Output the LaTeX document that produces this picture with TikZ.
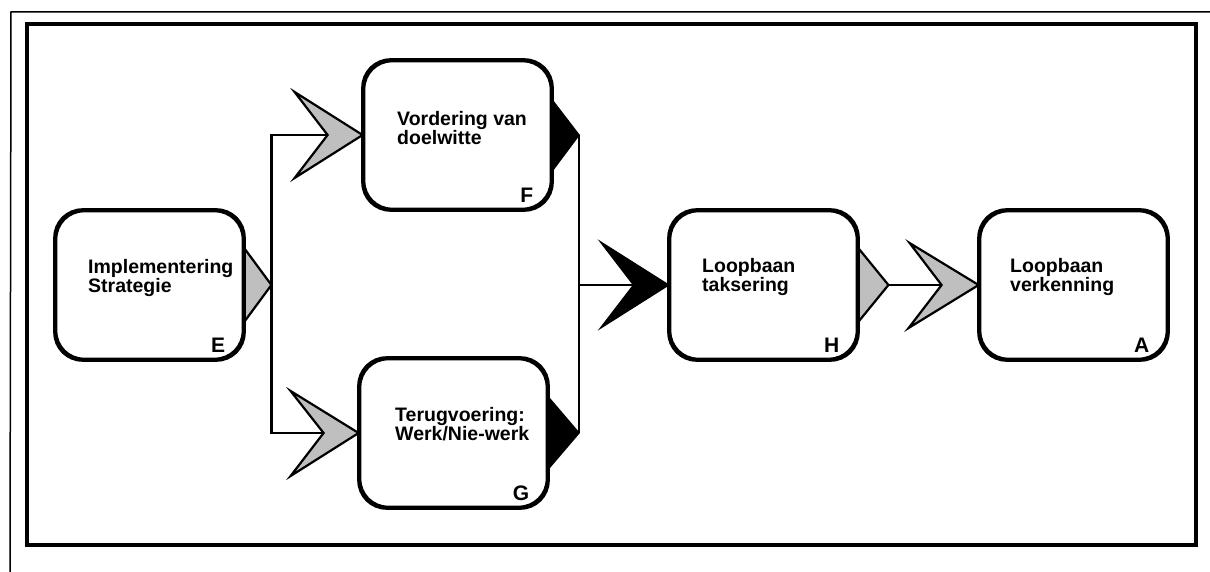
\documentclass[tikz,border=0pt]{standalone}
\usepackage{fontspec}
\setmainfont{Liberation Sans}
\usetikzlibrary{calc}
\begin{document}
\begin{tikzpicture}[x=1pt,y=-1pt,
  box/.style={draw, line width=2.8pt, rounded corners=28pt, minimum width=187pt, minimum height=148pt, fill=white},
  lbl/.style={font=\fontsize{19.5}{19}\selectfont\bfseries, align=left, inner sep=0pt, anchor=north west},
  corner/.style={font=\fontsize{21}{21}\selectfont\bfseries, inner sep=0pt, anchor=base east},
  conn/.style={line width=2.4pt},
  grayfill/.style={fill=gray!50, draw=black, line width=2.2pt, line join=miter},
  blackfill/.style={fill=black, draw=black, line width=1.4pt, line join=miter}]
\useasboundingbox (0,0) rectangle (1210,572);
% frames
\draw[line width=1.5pt] (10,572) -- (11,12) -- (1210,12);
\draw[line width=3.2pt] (27,24) rectangle (1196,545);
% boxes
\node[box] (E) at (149.5,285) {};
\node[box] (F) at (457.5,135) {};
\node[box] (G) at (453.5,433) {};
\node[box] (H) at (763.5,285) {};
\node[box] (A) at (1073.5,285) {};
% texts
\node[lbl] (Et) at (88,259) {Implementering\\Strategie};
\node[lbl] (Ft) at (397,111) {Vordering van\\doelwitte};
\node[lbl] (Gt) at (395,407) {Terugvoering:\\Werk/Nie-werk};
\node[lbl] (Ht) at (702,258) {Loopbaan\\taksering};
\node[lbl] (At) at (1010,258) {Loopbaan\\verkenning};
% corner letters
\node[corner] (El) at ($(E.south east)+(-19,-8)$) {E};
\node[corner] (Fl) at ($(F.south east)+(-19,-8)$) {F};
\node[corner] (Gl) at ($(G.south east)+(-19,-8)$) {G};
\node[corner] (Hl) at ($(H.south east)+(-19,-8)$) {H};
\node[corner] (Al) at ($(A.south east)+(-19,-8)$) {A};
% junction coordinates
\coordinate (Etip) at ($(E.east)+(27,0)$);
\coordinate (Ftip) at (579,135);
\coordinate (Gtip) at (579,433);
\coordinate (Fn) at ($(F.west)+(-35,0)$);
\coordinate (Gn) at ($(G.west)+(-35,0)$);
\coordinate (Hn) at ($(H.west)+(-35,0)$);
\coordinate (Hj) at (579,285);
\coordinate (Htip) at ($(H.east)+(30,0)$);
\coordinate (An) at ($(A.west)+(-37,0)$);
% connectors
\draw[conn] (Etip) |- (Fn);
\draw[conn] (Etip) |- (Gn);
\draw[conn] (Ftip) -- (Gtip);
\draw[conn] (Hj) -- (Hn);
\draw[conn] (Htip) -- (An);
% output triangles
\filldraw[grayfill] ($(E.east)+(-1,-38)$) -- (Etip) -- ($(E.east)+(-1,38)$) -- cycle;
\filldraw[blackfill] ($(F.east)+(-1,-36)$) -- (Ftip) -- ($(F.east)+(-1,37)$) -- cycle;
\filldraw[blackfill] ($(G.east)+(-1,-37)$) -- (Gtip) -- ($(G.east)+(-1,37)$) -- cycle;
\filldraw[grayfill] ($(H.east)+(-1,-38)$) -- (Htip) -- ($(H.east)+(-1,38)$) -- cycle;
% input chevrons
\filldraw[grayfill] (F.west) -- ($(F.west)+(-68,-43)$) -- (Fn) -- ($(F.west)+(-68,43)$) -- cycle;
\filldraw[grayfill] (G.west) -- ($(G.west)+(-68,-42)$) -- (Gn) -- ($(G.west)+(-68,43)$) -- cycle;
\filldraw[blackfill] (H.west) -- ($(H.west)+(-68,-43)$) -- (Hn) -- ($(H.west)+(-68,43)$) -- cycle;
\filldraw[grayfill] (A.west) -- ($(A.west)+(-69,-42)$) -- (An) -- ($(A.west)+(-70,43)$) -- cycle;
% redraw box borders on top
\foreach \n in {E,F,G,H,A}{\draw[line width=2.8pt, rounded corners=28pt] (\n.south west) rectangle (\n.north east);}
\end{tikzpicture}
\end{document}
